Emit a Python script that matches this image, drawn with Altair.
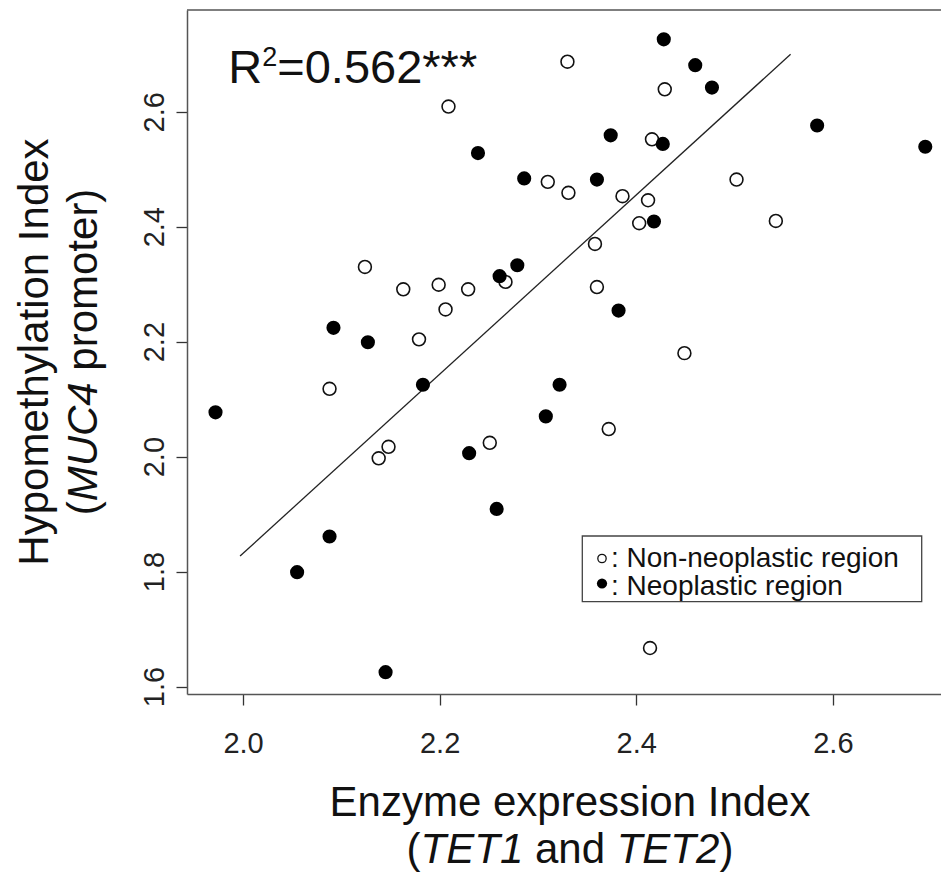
import altair as alt
import pandas as pd

# ---------------- data ----------------
groups = ["Non-neoplastic region", "Neoplastic region"]

non_x = [2.209, 2.310, 2.124, 2.163, 2.199, 2.229, 2.267, 2.330, 2.429, 2.331,
         2.502, 2.386, 2.412, 2.542, 2.403, 2.358, 2.360, 2.416, 2.449, 2.372,
         2.251, 2.206, 2.179, 2.088, 2.148, 2.138, 2.414]
non_y = [2.609, 2.478, 2.330, 2.291, 2.299, 2.291, 2.304, 2.687, 2.639, 2.459,
         2.482, 2.453, 2.446, 2.410, 2.406, 2.370, 2.295, 2.552, 2.180, 2.048,
         2.024, 2.256, 2.204, 2.118, 2.017, 1.997, 1.667]

neo_x = [2.239, 2.286, 2.261, 2.279, 2.428, 2.460, 2.477, 2.584, 2.694, 2.374,
         2.427, 2.360, 2.418, 2.382, 2.322, 2.308, 2.230, 2.258, 2.092, 2.127,
         2.183, 1.972, 2.088, 2.055, 2.145]
neo_y = [2.528, 2.484, 2.314, 2.333, 2.726, 2.681, 2.642, 2.576, 2.539, 2.559,
         2.544, 2.482, 2.409, 2.254, 2.125, 2.070, 2.006, 1.909, 2.224, 2.199,
         2.125, 2.077, 1.861, 1.799, 1.625]

fit_x = [1.997, 2.557]
fit_y = [1.827, 2.700]

x_ticks = [2.0, 2.2, 2.4, 2.6]
y_ticks = [1.6, 1.8, 2.0, 2.2, 2.4, 2.6]
x_domain = [1.943, 2.71]
y_domain = [1.587, 2.777]

r2_label = "0.562***"
x_title = "Enzyme expression Index"
x_title2 = [("(", "normal"), ("TET1", "italic"), (" and ", "normal"), ("TET2", "italic"), (")", "normal")]
y_title = "Hypomethylation Index"
y_title2 = [("(", "normal"), ("MUC4", "italic"), (" promoter)", "normal")]

# ---------------- layout helpers ----------------
FONT = "Liberation Sans"
PW, PH = 754, 684
WID = {"(": 333, ")": 333, "T": 611, "E": 667, "1": 556, "2": 556, " ": 278,
       "a": 556, "n": 556, "d": 556, "M": 833, "U": 722, "C": 722, "4": 556,
       "p": 556, "r": 333, "o": 556, "m": 833, "t": 278, "e": 556, "R": 722,
       "=": 584, "0": 556, ".": 278, "5": 556, "6": 556, "*": 389}


def tw(s, size):
    return sum(WID.get(c, 556) for c in s) * size / 1000.0


def layout(pieces, size):
    total = sum(tw(t, size) for t, _ in pieces)
    out, off = [], 0.0
    for t, st in pieces:
        lead = len(t) - len(t.lstrip(" "))
        out.append((t.strip(" "), st, off + tw(" " * lead, size)))
        off += tw(t, size)
    return out, total


one = pd.DataFrame({"d": [0]})


def txt(s, x, y, size, style="normal", angle=0, align="left"):
    return alt.Chart(one).mark_text(
        text=s, font=FONT, fontSize=size, fontStyle=style, angle=angle,
        align=align, baseline="alphabetic", color="#111"
    ).encode(x=alt.value(x), y=alt.value(y))


# ---------------- data layers ----------------
df = pd.concat([
    pd.DataFrame({"x": non_x, "y": non_y, "g": groups[0]}),
    pd.DataFrame({"x": neo_x, "y": neo_y, "g": groups[1]}),
])
fit = pd.DataFrame({"x": fit_x, "y": fit_y})

xs = alt.Scale(domain=x_domain, nice=False, zero=False)
ys = alt.Scale(domain=y_domain, nice=False, zero=False)

xax = alt.Axis(values=x_ticks, format=".1f", title=None, grid=False, tickSize=11,
               labelPadding=24, labelFontSize=29, labelFont=FONT, labelColor="#222",
               labelBaseline="top", labelFlush=False, labelOverlap=False,
               domainColor="#555", domainWidth=1.5, tickColor="#333", tickWidth=1.3)
yax = alt.Axis(values=y_ticks, format=".1f", title=None, grid=False, tickSize=11,
               labelPadding=13, labelFontSize=29, labelFont=FONT, labelColor="#222",
               labelAngle=270, labelAlign="center", labelBaseline="alphabetic",
               labelFlush=False, labelOverlap=False,
               domainColor="#555", domainWidth=1.5, tickColor="#333", tickWidth=1.3)

hollow = alt.Chart(df[df.g == groups[0]]).mark_point(
    shape="circle", filled=False, color="#111", strokeWidth=1.6, size=165, opacity=1
).encode(x=alt.X("x:Q", scale=xs, axis=xax), y=alt.Y("y:Q", scale=ys, axis=yax))

solid = alt.Chart(df[df.g == groups[1]]).mark_point(
    shape="circle", filled=True, color="#000", size=200, opacity=1
).encode(x=alt.X("x:Q", scale=xs), y=alt.Y("y:Q", scale=ys))

line = alt.Chart(fit).mark_line(color="#222", strokeWidth=1.3).encode(
    x=alt.X("x:Q", scale=xs), y=alt.Y("y:Q", scale=ys))

top_border = alt.Chart(one).mark_rule(color="#555", strokeWidth=1.5).encode(
    x=alt.value(0), x2=alt.value(PW), y=alt.value(0))

# ---------------- annotation: R^2 ----------------
r_x, r_base = 41.3, 73.3
layers_txt = [
    txt("R", r_x, r_base, 47),
    txt("2", r_x + tw("R", 47), r_base - 17.0, 27),
    txt("=" + r2_label, r_x + tw("R", 47) + tw("2", 27), r_base, 47),
]

# ---------------- x title ----------------
cx = 383
layers_txt.append(txt(x_title, cx, 806, 42, align="center"))
pcs, total = layout(x_title2, 42)
for t, st, off in pcs:
    layers_txt.append(txt(t, cx - total / 2 + off, 853, 42, style=st))

# ---------------- y title (rotated) ----------------
cy = PH / 2
layers_txt.append(txt(y_title, -139, cy, 42, angle=270, align="center"))
pcs, total = layout(y_title2, 42)
for t, st, off in pcs:
    layers_txt.append(txt(t, -90, cy + total / 2 - off, 42, style=st, angle=270))

# ---------------- legend ----------------
leg_box = alt.Chart(one).mark_rect(fill="white", stroke="#444", strokeWidth=1.3).encode(
    x=alt.value(395.3), x2=alt.value(734.7), y=alt.value(526), y2=alt.value(591.7))
leg_sym1 = alt.Chart(one).mark_point(shape="circle", filled=False, color="#111",
                                     strokeWidth=1.3, size=70, opacity=1).encode(
    x=alt.value(415), y=alt.value(548.5))
leg_sym2 = alt.Chart(one).mark_point(shape="circle", filled=True, color="#000",
                                     size=105, opacity=1).encode(
    x=alt.value(415), y=alt.value(573.5))
leg_t1 = txt(": " + groups[0], 424, 556.7, 28)
leg_t2 = txt(": " + groups[1], 424, 585, 28)

chart = alt.layer(
    line, hollow, solid, top_border, leg_box, leg_sym1, leg_sym2, leg_t1, leg_t2,
    *layers_txt
).properties(
    width=PW, height=PH,
    padding={"left": 179, "top": 2, "right": 0, "bottom": 178},
    autosize=alt.AutoSizeParams(type="none"),
).configure_view(stroke=None)

chart.save("out.html", embed_options={"renderer": "svg", "actions": False})
